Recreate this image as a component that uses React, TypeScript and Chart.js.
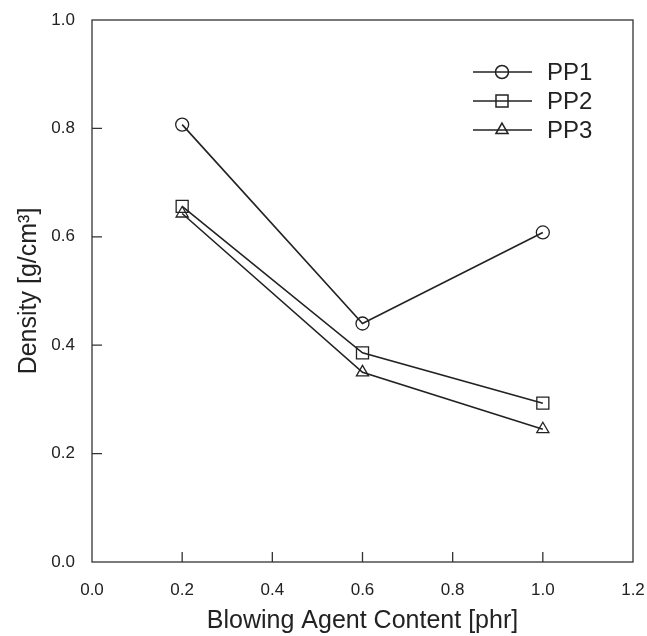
import React, { useEffect, useRef } from 'react';
import { Chart, registerables } from 'chart.js';

Chart.register(...registerables);

const xValues = [0.2, 0.6, 1.0];
const pp1Values = [0.807, 0.44, 0.608];
const pp2Values = [0.656, 0.386, 0.293];
const pp3Values = [0.643, 0.35, 0.245];
const seriesNames = ['PP1', 'PP2', 'PP3'];
const pointStyles = ['circle', 'rect', 'triangle'];
const pointRadii = [6.5, 8.5, 7];
const xTitle = 'Blowing Agent Content [phr]';
const yTitle = 'Density [g/cm\u00B3]';

const FONT = '"Liberation Sans", Arial, Helvetica, sans-serif';
const INK = '#222';

function drawMarker(ctx: CanvasRenderingContext2D, style: string, x: number, y: number, r: number) {
  ctx.beginPath();
  if (style === 'circle') {
    ctx.arc(x, y, r, 0, Math.PI * 2);
  } else if (style === 'rect') {
    const s = Math.SQRT1_2 * r;
    ctx.rect(x - s, y - s, 2 * s, 2 * s);
  } else {
    const a = (2 * Math.PI) / 3;
    ctx.moveTo(x, y - r);
    ctx.lineTo(x + Math.sin(a) * r, y - Math.cos(a) * r);
    ctx.lineTo(x + Math.sin(2 * a) * r, y - Math.cos(2 * a) * r);
    ctx.closePath();
  }
  ctx.stroke();
}

const framePlugin = {
  id: 'frameAndLegend',
  afterDraw(chart: any) {
    const ctx: CanvasRenderingContext2D = chart.ctx;
    const { left, right, top, bottom } = chart.chartArea;
    ctx.save();
    ctx.strokeStyle = '#333';
    ctx.lineWidth = 1.3;
    ctx.strokeRect(left, top, right - left, bottom - top);
    const xs = chart.scales.x;
    const ys = chart.scales.y;
    ctx.beginPath();
    xs.ticks.forEach((t: any) => {
      const px = xs.getPixelForValue(t.value);
      if (px > left + 1 && px < right - 1) {
        ctx.moveTo(px, bottom);
        ctx.lineTo(px, bottom - 10);
      }
    });
    ys.ticks.forEach((t: any) => {
      const py = ys.getPixelForValue(t.value);
      if (py > top + 1 && py < bottom - 1) {
        ctx.moveTo(left, py);
        ctx.lineTo(left + 10, py);
      }
    });
    ctx.stroke();

    // legend
    const lx0 = left + 381;
    const lx1 = left + 440;
    const mx = left + 410;
    const tx = left + 455;
    ctx.font = `24px ${FONT}`;
    ctx.textBaseline = 'middle';
    ctx.textAlign = 'left';
    chart.data.datasets.forEach((ds: any, i: number) => {
      const y = top + 52 + i * 29;
      ctx.strokeStyle = INK;
      ctx.lineWidth = 1.5;
      ctx.beginPath();
      ctx.moveTo(lx0, y);
      ctx.lineTo(lx1, y);
      ctx.stroke();
      drawMarker(ctx, pointStyles[i], mx, y, pointRadii[i]);
      ctx.fillStyle = INK;
      ctx.fillText(ds.label, tx, y + 1);
    });
    ctx.restore();
  },
};

export default function App() {
  const ref = useRef<HTMLCanvasElement | null>(null);

  useEffect(() => {
    if (!ref.current) return;
    const datasets = [pp1Values, pp2Values, pp3Values].map((vals, i) => ({
      label: seriesNames[i],
      data: xValues.map((x, j) => ({ x, y: vals[j] })),
      borderColor: INK,
      borderWidth: 1.6,
      backgroundColor: 'rgba(0,0,0,0)',
      pointStyle: pointStyles[i],
      pointRadius: pointRadii[i],
      pointBorderWidth: 1.3,
      pointBorderColor: INK,
      pointBackgroundColor: 'rgba(0,0,0,0)',
      tension: 0,
      fill: false,
    }));
    const chart = new Chart(ref.current, {
      type: 'line',
      data: { datasets },
      options: {
        animation: false,
        responsive: false,
        maintainAspectRatio: false,
        layout: { padding: { top: 20, right: 14, left: 0, bottom: 0 } },
        plugins: { legend: { display: false }, tooltip: { enabled: false } },
        scales: {
          x: {
            type: 'linear',
            min: 0,
            max: 1.2,
            grid: { display: false },
            border: { display: false },
            ticks: {
              stepSize: 0.2,
              padding: 10,
              color: INK,
              font: { family: FONT, size: 17 },
              callback: (v: any) => Number(v).toFixed(1),
            },
            title: {
              display: true,
              text: xTitle,
              color: INK,
              font: { family: FONT, size: 25 },
              padding: { top: 4, bottom: 0 },
            },
            afterFit: (s: any) => {
              s.height = 74;
              s.paddingLeft = 0;
              s.paddingRight = 0;
            },
          },
          y: {
            type: 'linear',
            min: 0,
            max: 1,
            grid: { display: false },
            border: { display: false },
            ticks: {
              stepSize: 0.2,
              padding: 9,
              color: INK,
              font: { family: FONT, size: 17 },
              callback: (v: any) => Number(v).toFixed(1),
            },
            title: {
              display: true,
              text: yTitle,
              color: INK,
              font: { family: FONT, size: 25 },
              padding: { top: 14, bottom: 4 },
            },
            afterFit: (s: any) => {
              s.width = 92;
              s.paddingTop = 0;
              s.paddingBottom = 0;
            },
          },
        },
      },
      plugins: [framePlugin],
    } as any);
    return () => chart.destroy();
  }, []);

  return (
    <div style={{ position: 'absolute', left: 0, top: 0, width: 647, height: 636, background: '#fff' }}>
      <canvas ref={ref} width={647} height={636} style={{ display: 'block' }} />
    </div>
  );
}
